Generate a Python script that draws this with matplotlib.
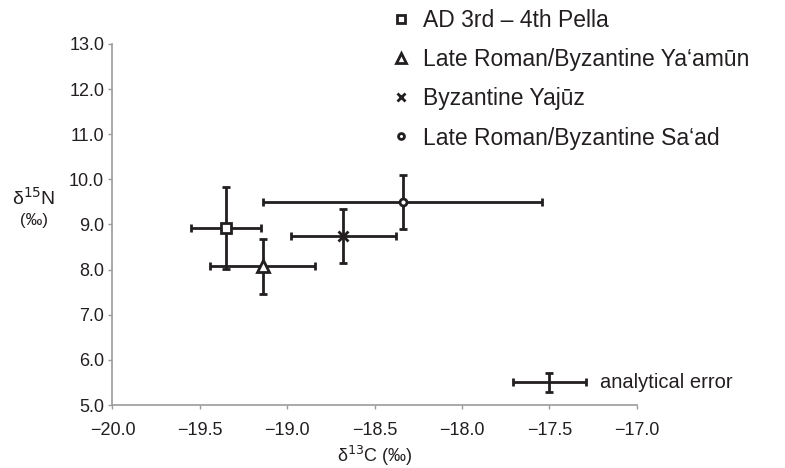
import matplotlib.pyplot as plt
from matplotlib.lines import Line2D

plt.rcParams['font.family'] = ['Liberation Sans', 'DejaVu Sans']

# group means and 1 sd for carbon / nitrogen
groups = ['AD 3rd – 4th Pella', 'Late Roman/Byzantine Ya‘amūn',
          'Byzantine Yajūz', 'Late Roman/Byzantine Sa‘ad']
d13c = [-19.35, -19.14, -18.68, -18.34]
d13c_sd = [0.20, 0.30, 0.30, 0.80]
d15n = [8.92, 8.07, 8.74, 9.49]
d15n_sd = [0.90, 0.61, 0.60, 0.60]
markers = ['s', '^', 'x', 'o']
msizes = [7, 8, 7, 5]

# instrument precision
err_x, err_xsd = -17.5, 0.21
err_y, err_ysd = 5.5, 0.21

ink = '#231f20'
grey = '#9b9b9b'

fig = plt.figure(figsize=(7.85, 4.68), dpi=100)
ax = fig.add_axes([0.1433, 0.1346, 0.6677, 0.7714])

for x, xs, y, ys, m, s in zip(d13c, d13c_sd, d15n, d15n_sd, markers, msizes):
    ax.errorbar(x, y, xerr=xs, yerr=ys, fmt='none', ecolor=ink,
                elinewidth=2, capsize=2.8, capthick=2, zorder=2)
    ax.plot(x, y, marker=m, ms=s, mfc='white' if m != 'x' else ink,
            mec=ink, mew=2, ls='none', zorder=3)

ax.errorbar(err_x, err_y, xerr=err_xsd, yerr=err_ysd, fmt='none',
            ecolor=ink, elinewidth=2, capsize=2.8, capthick=2)
ax.text(err_x + 0.29, err_y, 'analytical error', fontsize=14.5,
        color=ink, va='center', ha='left')

ax.set_xlim(-20, -17)
ax.set_ylim(5, 13)
ax.set_xticks([-20, -19.5, -19, -18.5, -18, -17.5, -17])
ax.set_yticks(range(5, 14))
ax.xaxis.set_major_formatter(lambda v, p: f'{v:.1f}'.replace('-', '\u2212'))
ax.yaxis.set_major_formatter(lambda v, p: f'{v:.1f}')

for side in ['top', 'right']:
    ax.spines[side].set_visible(False)
for side in ['left', 'bottom']:
    ax.spines[side].set_color(grey)
    ax.spines[side].set_linewidth(1.2)
ax.tick_params(colors=grey, labelcolor=ink, labelsize=13, length=3, width=1)
ax.tick_params(axis='x', pad=9)
ax.tick_params(axis='y', pad=3)

ax.set_xlabel('δ$^{13}$C (‰)', fontsize=13, color=ink, labelpad=4)
fig.text(0.043, 0.578, 'δ$^{15}$N', fontsize=14, color=ink,
         ha='center', va='center')
fig.text(0.043, 0.528, '(‰)', fontsize=12, color=ink,
         ha='center', va='center')

handles = [Line2D([], [], marker=m, ls='none', ms=s * 0.85, mec=ink, mew=2,
                  mfc='white' if m != 'x' else ink)
           for m, s in zip(markers, msizes)]
fig.legend(handles, groups, loc='upper left', bbox_to_anchor=(0.474, 1.024),
           frameon=False, fontsize=16.5, labelcolor=ink, handlelength=0.7,
           handletextpad=0.6, labelspacing=0.7)

fig.savefig('out.png', dpi=100)
